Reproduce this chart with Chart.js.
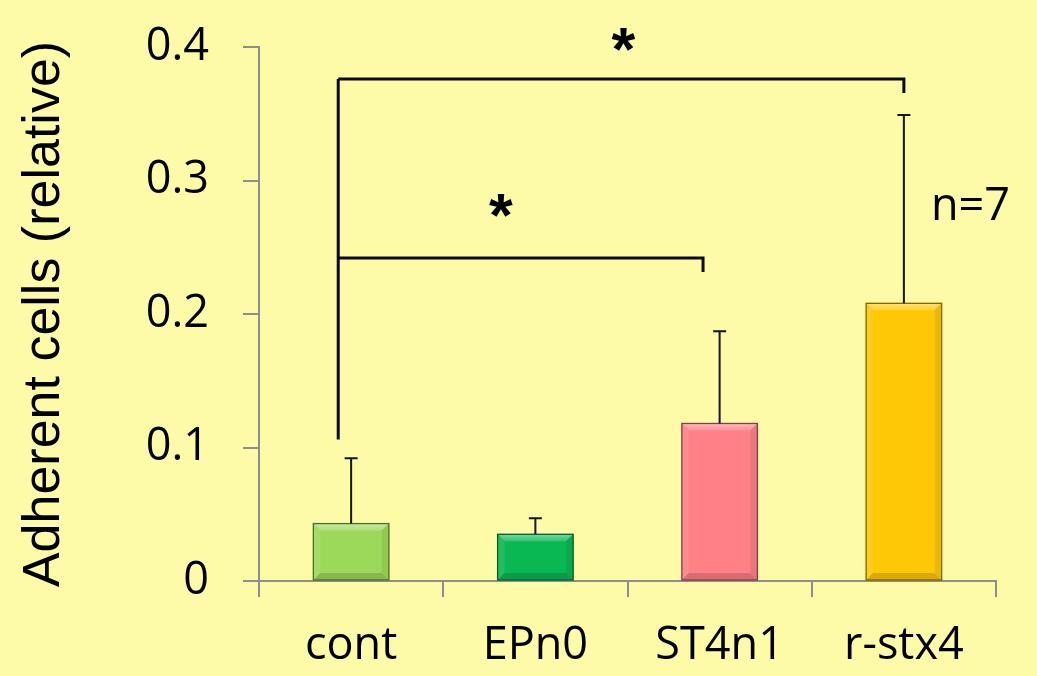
<!DOCTYPE html>
<html>
<head>
<meta charset="utf-8">
<script src="https://cdn.jsdelivr.net/npm/chart.js@4.4.1/dist/chart.umd.min.js"></script>
<style>
html,body{margin:0;padding:0;background:#FDFBA7;}
#wrap{width:1037px;height:676px;position:relative;}
</style>
</head>
<body>
<div id="wrap"><canvas id="c"></canvas></div>
<script>
// ---- data ----
const categories = ['cont', 'EPn0', 'ST4n1', 'r-stx4'];
const means = [0.043, 0.035, 0.118, 0.208];
const sd = [0.049, 0.012, 0.069, 0.141];
const barColors = ['#9CD95A', '#0AB853', '#FF8087', '#FFC807'];
const yTickValues = [0, 0.1, 0.2, 0.3, 0.4];
const yTickLabels = ['0', '0.1', '0.2', '0.3', '0.4'];
const yTitle = 'Adherent cells (relative)';
const sampleNote = 'n=7';
const starLabel = '*';

// ---- annotation placement (data space: category index / value) ----
const annot = {
  stem: { x: -0.07, top: 0.376, bottom: 0.106 },
  brackets: [
    { x2: 3.0, y: 0.376, dropTo: 0.3655 },
    { x2: 1.91, y: 0.242, dropTo: 0.2315 }
  ],
  stars: [ { x: 1.478, y: 0.4056 }, { x: 0.813, y: 0.2816 } ],
  note: { x: 3.147, y: 0.283 }
};

const BG = '#FDFBA7';
const AXIS = '#8E8E8E';
const TXT_FONT = '"Open Sans"';

function hexToRgb(h) {
  h = h.replace('#', '');
  return [parseInt(h.substr(0,2),16), parseInt(h.substr(2,2),16), parseInt(h.substr(4,2),16)];
}
function mix(c, target, t) {
  const a = hexToRgb(c), b = hexToRgb(target);
  const r = a.map((v, i) => Math.round(v + (b[i] - v) * t));
  return `rgb(${r[0]},${r[1]},${r[2]})`;
}
function poly(ctx, pts, fill) {
  ctx.beginPath();
  ctx.moveTo(pts[0][0], pts[0][1]);
  for (let i = 1; i < pts.length; i++) ctx.lineTo(pts[i][0], pts[i][1]);
  ctx.closePath();
  ctx.fillStyle = fill;
  ctx.fill();
}

const bgPlugin = {
  id: 'bg',
  beforeDraw(chart) {
    const ctx = chart.ctx;
    ctx.save();
    ctx.fillStyle = BG;
    ctx.fillRect(0, 0, chart.width, chart.height);
    ctx.restore();
  }
};

const bevelPlugin = {
  id: 'bevel',
  afterDatasetsDraw(chart) {
    const ctx = chart.ctx;
    const meta = chart.getDatasetMeta(0);
    meta.data.forEach((bar, i) => {
      const p = bar.getProps(['x', 'y', 'base', 'width'], true);
      const l = p.x - p.width / 2, r = p.x + p.width / 2, t = p.y, b = p.base;
      const bv = 7;
      const c = barColors[i];
      ctx.save();
      const g = ctx.createLinearGradient(0, t, 0, t + bv);
      g.addColorStop(0, mix(c, '#FFFFFF', 0.45));
      g.addColorStop(1, mix(c, '#FFFFFF', 0.15));
      poly(ctx, [[l, t], [r, t], [r - bv, t + bv], [l + bv, t + bv]], g);
      poly(ctx, [[l, t], [l + bv, t + bv], [l + bv, b - bv], [l, b]], mix(c, '#FFFFFF', 0.08));
      poly(ctx, [[r, t], [r - bv, t + bv], [r - bv, b - bv], [r, b]], mix(c, '#000000', 0.08));
      poly(ctx, [[l, b], [l + bv, b - bv], [r - bv, b - bv], [r, b]], mix(c, '#000000', 0.15));
      ctx.strokeStyle = mix(c, '#000000', 0.5);
      ctx.lineWidth = 1.3;
      ctx.strokeRect(l, t, p.width, b - t);
      ctx.restore();
    });
  }
};

const errorPlugin = {
  id: 'errorbars',
  afterDatasetsDraw(chart) {
    const ctx = chart.ctx;
    const ys = chart.scales.y;
    const meta = chart.getDatasetMeta(0);
    ctx.save();
    ctx.strokeStyle = '#151515';
    ctx.lineWidth = 2;
    meta.data.forEach((bar, i) => {
      const x = bar.x;
      const y0 = ys.getPixelForValue(means[i]);
      const y1 = ys.getPixelForValue(means[i] + sd[i]);
      ctx.beginPath();
      ctx.moveTo(x, y0);
      ctx.lineTo(x, y1);
      ctx.moveTo(x - 6.5, y1);
      ctx.lineTo(x + 6.5, y1);
      ctx.stroke();
    });
    ctx.restore();
  }
};

function drawCentered(ctx, text, font, cx, cy, align) {
  ctx.font = font;
  ctx.textAlign = align || 'center';
  ctx.textBaseline = 'alphabetic';
  const m = ctx.measureText(text);
  const by = cy + (m.actualBoundingBoxAscent - m.actualBoundingBoxDescent) / 2;
  ctx.fillText(text, cx, by);
}

const annotPlugin = {
  id: 'annot',
  afterDraw(chart) {
    const ctx = chart.ctx;
    const xs = chart.scales.x, ys = chart.scales.y;
    const X = v => xs.getPixelForValue(v);
    const Y = v => ys.getPixelForValue(v);
    ctx.save();
    ctx.strokeStyle = '#0A0A0A';
    ctx.lineWidth = 3;
    ctx.lineJoin = 'miter';
    ctx.lineCap = 'butt';
    ctx.beginPath();
    ctx.moveTo(X(annot.stem.x), Y(annot.stem.bottom));
    ctx.lineTo(X(annot.stem.x), Y(annot.stem.top));
    ctx.stroke();
    annot.brackets.forEach(bk => {
      ctx.beginPath();
      ctx.moveTo(X(annot.stem.x), Y(bk.y));
      ctx.lineTo(X(bk.x2), Y(bk.y));
      ctx.lineTo(X(bk.x2), Y(bk.dropTo));
      ctx.stroke();
    });
    ctx.fillStyle = '#000000';
    ctx.font = 'bold 100px "Liberation Sans"';
    const mm = ctx.measureText(starLabel);
    const inkH = mm.actualBoundingBoxAscent + mm.actualBoundingBoxDescent;
    const starSize = Math.round(100 * 23 / inkH);
    annot.stars.forEach(s => {
      drawCentered(ctx, starLabel, `bold ${starSize}px "Liberation Sans"`, X(s.x), Y(s.y), 'center');
    });
    drawCentered(ctx, sampleNote, `45px ${TXT_FONT}`, X(annot.note.x), Y(annot.note.y), 'left');
    ctx.restore();
  }
};

new Chart(document.getElementById('c'), {
  type: 'bar',
  data: {
    labels: categories,
    datasets: [{
      data: means,
      backgroundColor: barColors,
      borderWidth: 0,
      barPercentage: 0.41,
      categoryPercentage: 1.0
    }]
  },
  options: {
    responsive: true,
    maintainAspectRatio: false,
    animation: false,
    events: [],
    layout: { padding: { top: 47, right: 41, bottom: 0, left: 0 } },
    plugins: { legend: { display: false }, tooltip: { enabled: false } },
    scales: {
      x: {
        ticks: { font: { family: 'Open Sans', size: 45 }, color: '#000', padding: 22, maxRotation: 0, autoSkip: false },
        grid: { drawOnChartArea: false, drawTicks: true, tickLength: 16, color: AXIS, lineWidth: 2, offset: true },
        border: { display: true, color: AXIS, width: 2 },
        afterFit: s => { s.height = 95; s.paddingLeft = 0; s.paddingRight = 0; }
      },
      y: {
        min: 0, max: 0.4,
        afterBuildTicks: s => { s.ticks = yTickValues.map(v => ({ value: v })); },
        ticks: {
          font: { family: 'Open Sans', size: 45 }, color: '#000', padding: 34,
          callback: (v) => { const i = yTickValues.findIndex(t => Math.abs(t - v) < 1e-9); return i >= 0 ? yTickLabels[i] : ''; }
        },
        grid: { drawOnChartArea: false, drawTicks: true, tickLength: 16, color: AXIS, lineWidth: 2 },
        border: { display: true, color: AXIS, width: 2 },
        title: { display: true, text: yTitle, font: { family: 'Liberation Sans', size: 52 }, color: '#000', padding: { top: 13, bottom: 0 } },
        afterFit: s => { s.width = 259; s.paddingTop = 0; s.paddingBottom = 0; }
      }
    }
  },
  plugins: [bgPlugin, bevelPlugin, errorPlugin, annotPlugin]
});
</script>
</body>
</html>
